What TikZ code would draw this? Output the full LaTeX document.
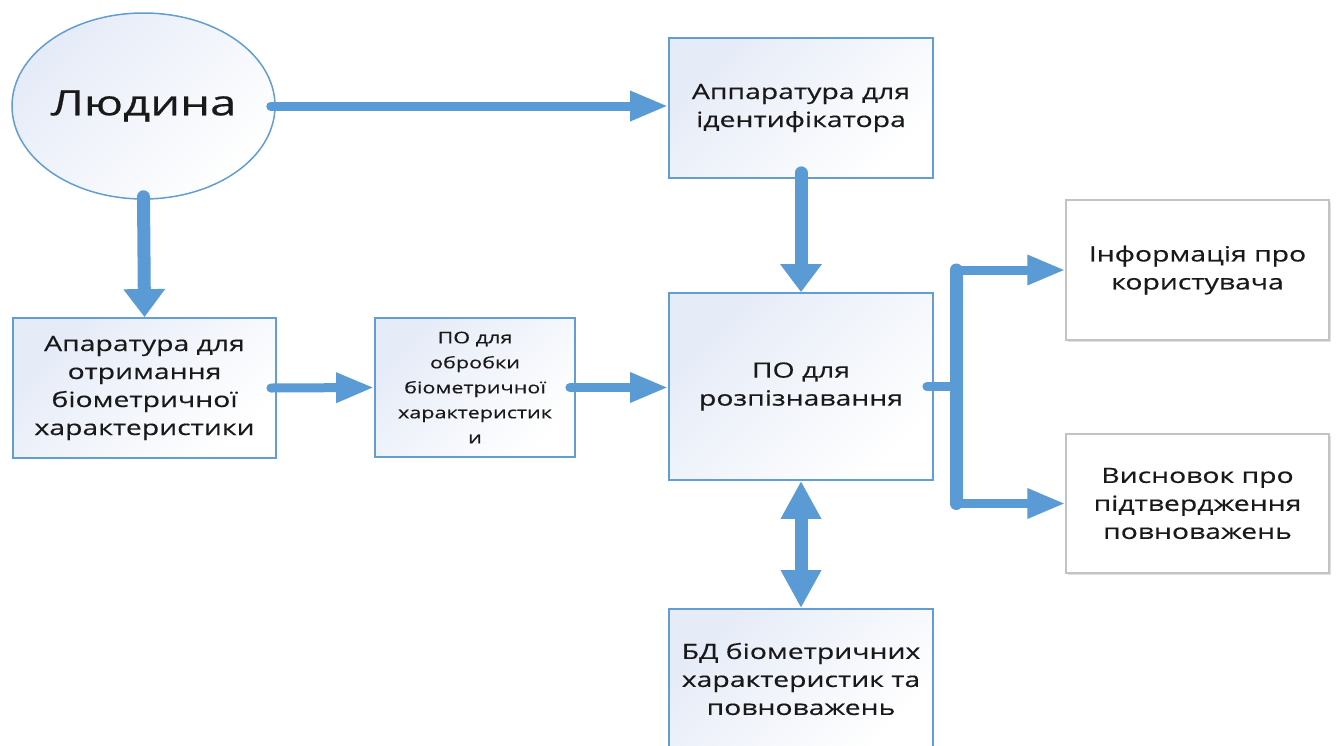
\documentclass[tikz,border=0pt]{standalone}
\usepackage{fontspec}
\setmainfont{Open Sans}[FakeStretch=1.35,FakeBold=0.4]
\usetikzlibrary{arrows.meta,shapes.geometric,shadows}
\definecolor{arr}{RGB}{91,155,213}
\definecolor{bord}{RGB}{98,158,212}
\definecolor{lite}{RGB}{229,235,247}
\definecolor{gbord}{RGB}{195,195,195}
\definecolor{txt}{RGB}{25,25,25}
\tikzset{
  bluebox/.style={draw=bord, line width=1.8pt, shading=axis, top color=lite, middle color=lite!25!white, bottom color=white,
    shading angle=45, inner sep=0pt, align=center, text=txt,
    font=\fontsize{21}{28}\selectfont},
  graybox/.style={draw=gbord, line width=1.3pt, fill=white, inner sep=0pt, align=center, text=txt,
    drop shadow={shadow xshift=2pt, shadow yshift=-2pt, opacity=0.12, fill=black},
    font=\fontsize{21}{28}\selectfont},
  harrow/.style={draw=arr, line width=9pt, line cap=round, -{Triangle[length=38pt,width=28pt]}},
  varrow/.style={draw=arr, line width=13pt, line cap=round, -{Triangle[length=28pt,width=40pt]}},
  darrow/.style={draw=arr, line width=13pt, {Triangle[length=38pt,width=38pt]}-{Triangle[length=38pt,width=38pt]}},
  hline/.style={draw=arr, line width=9pt, line cap=round},
  vline/.style={draw=arr, line width=13pt, line cap=round}
}
\begin{document}
\begin{tikzpicture}[x=1pt,y=-1pt]
\useasboundingbox (0,0) rectangle (1338,745);
\clip (0,0) rectangle (1338,745);
\fill[white] (0,0) rectangle (1338,745);

\node[ellipse, draw=bord, line width=1.5pt, shading=axis, top color=lite, middle color=lite!25!white, bottom color=white,
  shading angle=45, inner sep=0pt, minimum width=263pt, minimum height=186pt, text=txt,
  font=\fontsize{35}{40}\selectfont] (ell) at (143.5,106) {Людина};

\node[bluebox, minimum width=264pt, minimum height=140pt] (id) at (801,108) {Аппаратура для\\ідентифікатора};
\node[bluebox, minimum width=263pt, minimum height=140pt] (acq) at (144.5,388) {Апаратура для\\отримання\\біометричної\\характеристики};
\node[bluebox, minimum width=200pt, minimum height=139pt, font=\fontsize{16}{25}\selectfont] (proc) at (475,387.5) {ПО для\\обробки\\біометричної\\характеристик\\и};
\node[bluebox, minimum width=264pt, minimum height=187pt] (po) at (801,386.5) {ПО для\\розпізнавання};
\node[bluebox, minimum width=264pt, minimum height=140pt] (db) at (801,679) {БД біометричних\\характеристик та\\повноважень};
\node[graybox, minimum width=263pt, minimum height=140pt] (info) at (1197.5,270) {Інформація про\\користувача};
\node[graybox, minimum width=263pt, minimum height=139pt] (concl) at (1197.5,503.5) {Висновок про\\підтвердження\\повноважень};

\draw[harrow] ([xshift=-5pt]ell.east) -- (id.west |- ell.east);
\draw[varrow] ([yshift=3pt]ell.south) -- (acq.north);
\draw[harrow] ([xshift=-6pt]acq.east) -- (proc.west);
\draw[harrow] ([xshift=-6pt]proc.east) -- (proc.east -| po.west);
\draw[varrow] ([yshift=6pt]id.south) -- (po.north);
\draw[darrow] (po.south) -- (db.north);

\coordinate (j) at (956,386.5);
\draw[hline] ([xshift=-7pt]po.east) -- (j);
\draw[vline] (j |- info.west) -- (j |- concl.west);
\draw[harrow] (j |- info.west) -- (info.west);
\draw[harrow] (j |- concl.west) -- (concl.west);
\end{tikzpicture}
\end{document}
